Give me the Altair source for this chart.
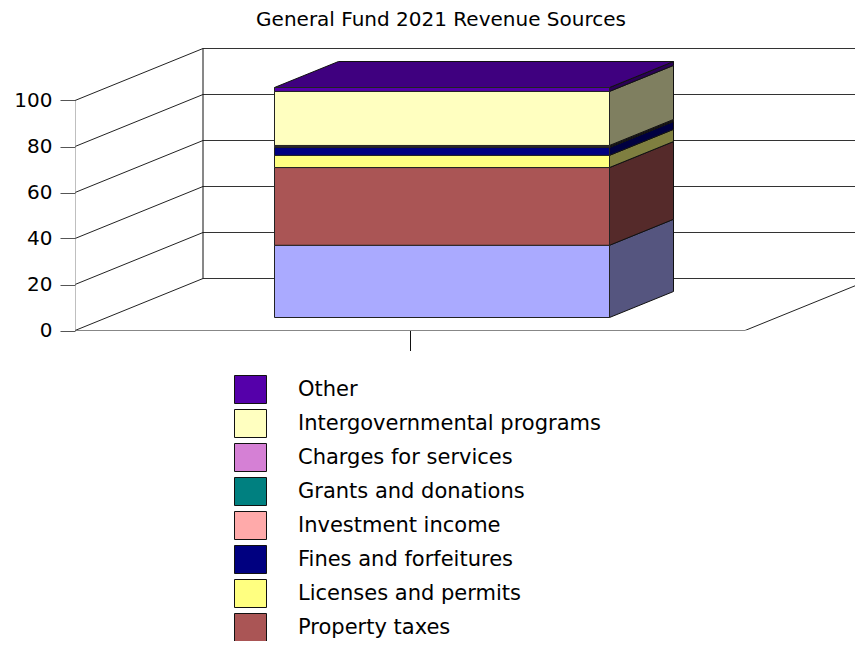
import altair as alt
import pandas as pd

# ---------------- data ----------------
title_text = "General Fund 2021 Revenue Sources"
series = ["Sales taxes", "Property taxes", "Licenses and permits", "Fines and forfeitures",
          "Investment income", "Grants and donations", "Charges for services",
          "Intergovernmental programs", "Other"]
values = [31.4, 33.8, 5.3, 3.4, 0.3, 0.2, 0.4, 23.5, 1.7]
colors = ["#AAAAFF", "#AA5555", "#FFFF80", "#000080", "#FFAAAA", "#008080",
          "#D580D5", "#FFFFC0", "#5500AA"]
legend_entries = ["Other", "Intergovernmental programs", "Charges for services",
                  "Grants and donations", "Investment income", "Fines and forfeitures",
                  "Licenses and permits", "Property taxes"]
y_ticks = [0, 20, 40, 60, 80, 100]

# ---------------- layout (3-D projection) ----------------
W = 780            # plot width (px)
H = 287.5          # plot height (px)
Y_MAX = 125        # value domain top
PX = H / Y_MAX     # px per value unit
DX = 128           # depth shift in x (px)
DY = 52 / PX       # depth shift in y (value units)
BAND = 670         # category band on the front plane
BAR_FRAC = 0.5
D0, D1 = 0.25, 0.75
FONT = "DejaVu Sans"


def shade(hx, f):
    hx = hx.lstrip("#")
    r, g, b = (int(hx[i:i + 2], 16) for i in (0, 2, 4))
    return "#%02x%02x%02x" % (int(r * f), int(g * f), int(b * f))


xl = BAND / 2 - BAND * BAR_FRAC / 2 + D0 * DX
xr = BAND / 2 + BAND * BAR_FRAC / 2 + D0 * DX
ddx = (D1 - D0) * DX

front_rows, side_rows = [], []
cum = 0.0
for s, v, c in zip(series, values, colors):
    lo, hi = cum, cum + v
    cum = hi
    front_rows.append(dict(series=s, x=xl, x2=xr, y=lo + D0 * DY, y2=hi + D0 * DY))
    side_rows.append(dict(series=s, fillc=shade(c, 0.5), x=xr, y=lo + D0 * DY, y2=hi + D0 * DY))
    side_rows.append(dict(series=s, fillc=shade(c, 0.5), x=xr + ddx, y=lo + D1 * DY, y2=hi + D1 * DY))
front = pd.DataFrame(front_rows)
side = pd.DataFrame(side_rows)
top = pd.DataFrame([
    dict(series=series[-1], fillc=shade(colors[-1], 0.75), y=cum + D0 * DY, x=xl, x2=xr),
    dict(series=series[-1], fillc=shade(colors[-1], 0.75), y=cum + D1 * DY, x=xl + ddx, x2=xr + ddx),
])

rules = []
for t in y_ticks:
    rules.append(dict(x=0, x2=DX, y=t, y2=t + DY, c="#222222"))
    rules.append(dict(x=DX, x2=W, y=t + DY, y2=t + DY, c="#333333"))
rules.append(dict(x=DX, x2=DX, y=DY, y2=y_ticks[-1] + DY, c="#111111"))
rules.append(dict(x=0, x2=BAND, y=0, y2=0, c="#111111"))
rules.append(dict(x=BAND, x2=BAND + DX, y=0, y2=DY, c="#222222"))
rules.append(dict(x=0, x2=0, y=0, y2=y_ticks[-1], c="#808080"))
walls = pd.DataFrame(rules)

xs = alt.Scale(domain=[0, W], nice=False, zero=False)
ys = alt.Scale(domain=[0, Y_MAX], nice=False, zero=False)
x_axis = alt.Axis(values=[BAND / 2], tickSize=20, labels=False, domain=False, grid=False,
                  title=None, tickColor="#111111", ticks=True)
y_axis = alt.Axis(values=y_ticks, tickSize=15, domain=False, grid=False, title=None,
                  labelFont=FONT, labelFontSize=20, labelColor="black", labelPadding=8,
                  tickColor="#555555")

wall_layer = alt.Chart(walls).mark_rule(strokeWidth=1, clip=True).encode(
    x=alt.X("x:Q", scale=xs, axis=x_axis),
    x2="x2",
    y=alt.Y("y:Q", scale=ys, axis=y_axis),
    y2="y2",
    color=alt.Color("c:N", scale=None),
)

front_layer = alt.Chart(front).mark_rect(stroke="#222222", strokeWidth=1).encode(
    x=alt.X("x:Q", scale=xs, axis=x_axis),
    x2="x2",
    y=alt.Y("y:Q", scale=ys, axis=y_axis),
    y2="y2",
    fill=alt.Fill("series:N", scale=alt.Scale(domain=series, range=colors),
                  legend=alt.Legend(values=legend_entries, orient="none", legendX=159, legendY=330,
                                    title=None, padding=0, labelFont=FONT, labelFontSize=21,
                                    labelColor="black", labelOffset=31, rowPadding=1,
                                    symbolType="M-1,-0.875L1,-0.875L1,0.875L-1,0.875Z",
                                    symbolSize=1024, symbolStrokeColor="#333333",
                                    symbolStrokeWidth=1, symbolOpacity=1, labelLimit=500)),
)

side_layer = alt.Chart(side).mark_area(stroke="#111111", strokeWidth=1, opacity=1).encode(
    x=alt.X("x:Q", scale=xs, axis=x_axis),
    y=alt.Y("y:Q", scale=ys, axis=y_axis),
    y2="y2",
    detail="series:N",
    fill=alt.Fill("fillc:N", scale=None),
)

top_layer = alt.Chart(top).mark_area(orient="horizontal", stroke="#111111", strokeWidth=1, opacity=1).encode(
    y=alt.Y("y:Q", scale=ys, axis=y_axis),
    x=alt.X("x:Q", scale=xs, axis=x_axis),
    x2="x2",
    detail="series:N",
    fill=alt.Fill("fillc:N", scale=None),
)

chart = alt.layer(wall_layer, side_layer, top_layer, front_layer).properties(
    width=W, height=H,
    background="white",
    title=alt.Title(title_text, font=FONT, fontSize=20, fontWeight="normal", color="black",
                    anchor="middle", dx=-24, offset=13),
    autosize=alt.AutoSizeParams(type="none"),
    padding={"left": 67, "top": 35, "right": 0, "bottom": 310},
).configure_view(stroke=None)

chart.save("out.html", embed_options={"renderer": "svg", "actions": False})
